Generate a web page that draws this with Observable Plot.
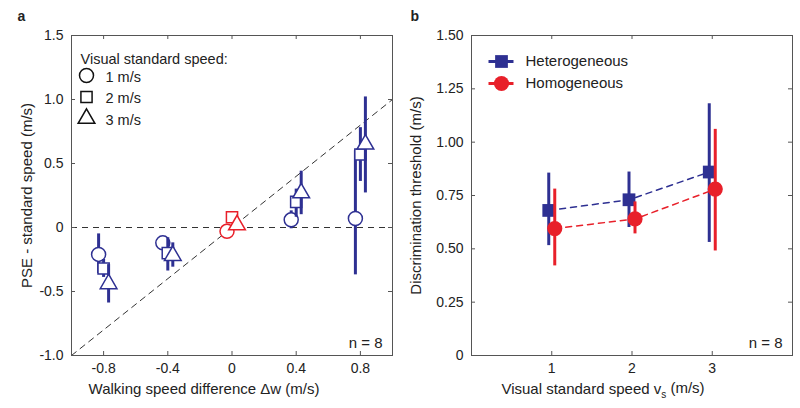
<!DOCTYPE html>
<html><head><meta charset="utf-8">
<script src="https://cdn.jsdelivr.net/npm/d3@7"></script>
<script src="https://cdn.jsdelivr.net/npm/@observablehq/plot@0.6"></script>
<style>
body{margin:0;background:#fff;}
#wrap{display:flex;width:800px;height:408px;}
</style></head><body><div id="wrap"></div>
<script>
// ---------- Panel a data ----------
const dwLevels = [-0.8, -0.4, 0, 0.4, 0.8];
const speedLabels = ["1 m/s", "2 m/s", "3 m/s"];
const pse1 = [-0.21, -0.12, -0.03, 0.06, 0.07];
const lo1  = [-0.36, -0.17, -0.05, -0.01, -0.37];
const hi1  = [-0.05, -0.07, 0.00, 0.13, 0.60];
const pse2 = [-0.32, -0.20, 0.08, 0.20, 0.57];
const lo2  = [-0.39, -0.34, 0.05, 0.08, 0.36];
const hi2  = [-0.25, -0.08, 0.11, 0.30, 0.78];
const pse3 = [-0.44, -0.22, 0.02, 0.27, 0.65];
const lo3  = [-0.59, -0.31, 0.00, 0.10, 0.27];
const hi3  = [-0.29, -0.12, 0.04, 0.44, 1.02];
const xTicksA = [-0.8, -0.4, 0, 0.4, 0.8];
const xTickLabelsA = ["-0.8", "-0.4", "0", "0.4", "0.8"];
const yTicksA = [-1, -0.5, 0, 0.5, 1, 1.5];
const yTickLabelsA = ["-1.0", "-0.5", "0", "0.5", "1.0", "1.5"];
const xDomainA = [-1, 1];
const yDomainA = [-1, 1.5];

// ---------- Panel b data ----------
const visSpeeds = [1, 2, 3];
const seriesNames = ["Heterogeneous", "Homogeneous"];
const hetMean = [0.68, 0.73, 0.86];
const hetLo   = [0.515, 0.60, 0.53];
const hetHi   = [0.855, 0.86, 1.18];
const homMean = [0.595, 0.64, 0.78];
const homLo   = [0.42, 0.57, 0.49];
const homHi   = [0.78, 0.72, 1.06];
const xTicksB = [1, 2, 3];
const xTickLabelsB = ["1", "2", "3"];
const yTicksB = [0, 0.25, 0.5, 0.75, 1, 1.25, 1.5];
const yTickLabelsB = ["0", "0.25", "0.50", "0.75", "1.00", "1.25", "1.50"];
const xDomainB = [0, 4];
const yDomainB = [0, 1.5];

// ---------- styling ----------
const blue = "#2e3092", red = "#e8202a", frameColor = "#555";
const W = 400, H = 408, mL = 71, mR = 8, mT = 35, mB = 53;
const pw = W - mL - mR, ph = H - mT - mB;
const font = {fontFamily: "'Liberation Sans', Arial, Helvetica, sans-serif", fontSize: "15px", color: "#222", background: "#fff"};
const TXT = {lineAnchor: "middle", fontSize: 15};

function fmt(ticks, labels) { return d => labels[ticks.indexOf(d)]; }
function inwardTicks(xt, yt) {
  return [
    Plot.ruleX(xt, {x: d => d, insetTop: ph - 4, stroke: frameColor}),
    Plot.ruleX(xt, {x: d => d, insetBottom: ph - 4, stroke: frameColor}),
    Plot.ruleY(yt, {y: d => d, insetRight: pw - 4, stroke: frameColor}),
    Plot.ruleY(yt, {y: d => d, insetLeft: pw - 4, stroke: frameColor})
  ];
}
const hLine = {draw(ctx) { ctx.moveTo(-13, 0); ctx.lineTo(12, 0); }};

// ---------- Panel a ----------
const pseAll = [pse1, pse2, pse3], loAll = [lo1, lo2, lo3], hiAll = [hi1, hi2, hi3];
const symbolsA = ["circle", "square", "triangle"];
const rA = [7, 6.3, 6.2];
const dxA = [-5, 0, 5];
const marksA = [
  Plot.ruleY([0], {y: d => d, stroke: "#333", strokeWidth: 1, strokeDasharray: "6,5"}),
  Plot.line(xDomainA, {x: d => d, y: d => d, stroke: "#333", strokeWidth: 1, strokeDasharray: "6,5"})
];
speedLabels.forEach((s, k) => {
  const rows = dwLevels.map((dw, i) => ({dw, pse: pseAll[k][i], lo: loAll[k][i], hi: hiAll[k][i], col: dw === 0 ? red : blue}));
  marksA.push(Plot.ruleX(rows, {x: "dw", y1: "lo", y2: "hi", dx: dxA[k], stroke: "col", strokeWidth: 3}));
  marksA.push(Plot.dot(rows, {x: "dw", y: "pse", dx: dxA[k], symbol: symbolsA[k], r: rA[k], fill: "white", stroke: "col", strokeWidth: 1.5}));
});
marksA.push(
  Plot.frame({stroke: frameColor}),
  ...inwardTicks(xTicksA, yTicksA),
  Plot.axisX(xTicksA, {tickSize: 0, tickPadding: 8, fontSize: 14, tickFormat: fmt(xTicksA, xTickLabelsA), label: null}),
  Plot.axisY(yTicksA, {tickSize: 0, tickPadding: 8, fontSize: 14, tickFormat: fmt(yTicksA, yTickLabelsA), label: null}),
  Plot.text(["Walking speed difference Δw (m/s)"], {...TXT, frameAnchor: "bottom", textAnchor: "middle", dy: 34, dx: -28, text: d => d}),
  Plot.text(["PSE - standard speed (m/s)"], {...TXT, frameAnchor: "left", textAnchor: "middle", dx: -44, rotate: -90, text: d => d}),
  Plot.text(["a"], {...TXT, frameAnchor: "top-left", dx: -54, dy: -19, text: d => d, fontWeight: "bold", fontSize: 14}),
  Plot.text(["n = 8"], {...TXT, frameAnchor: "bottom-right", dx: -10, dy: -12, textAnchor: "end", text: d => d}),
  Plot.text(["Visual standard speed:"], {...TXT, fontSize: 14.5, frameAnchor: "top-left", dx: 9, dy: 24, textAnchor: "start", text: d => d}),
  ...speedLabels.flatMap((s, k) => [
    Plot.dot([s], {frameAnchor: "top-left", dx: 15, dy: 40 + 21.5 * k, symbol: symbolsA[k], r: rA[k], fill: "white", stroke: "#111", strokeWidth: 1.5}),
    Plot.text([s], {...TXT, fontSize: 14.5, frameAnchor: "top-left", dx: 34, dy: 41.5 + 21.5 * k, textAnchor: "start", text: d => d})
  ])
);
const plotA = Plot.plot({
  width: W, height: H, marginLeft: mL, marginRight: mR, marginTop: mT, marginBottom: mB,
  x: {domain: xDomainA}, y: {domain: yDomainA},
  style: font, marks: marksA
});

// ---------- Panel b ----------
const bSeries = [
  {name: seriesNames[0], mean: hetMean, lo: hetLo, hi: hetHi, col: blue, sym: "square", r: 7.2, dx: -3},
  {name: seriesNames[1], mean: homMean, lo: homLo, hi: homHi, col: red, sym: "circle", r: 7.6, dx: 3}
];
const marksB = [];
bSeries.forEach(s => {
  const rows = visSpeeds.map((v, i) => ({v, m: s.mean[i], lo: s.lo[i], hi: s.hi[i]}));
  marksB.push(
    Plot.ruleX(rows, {x: "v", y1: "lo", y2: "hi", dx: s.dx, stroke: s.col, strokeWidth: 3}),
    Plot.line(rows, {x: "v", y: "m", dx: s.dx, stroke: s.col, strokeWidth: 1.5, strokeDasharray: "6,5"}),
    Plot.dot(rows, {x: "v", y: "m", dx: s.dx, symbol: s.sym, r: s.r, fill: s.col, stroke: "none"})
  );
});
marksB.push(
  Plot.frame({stroke: frameColor}),
  ...inwardTicks(xTicksB, yTicksB),
  Plot.axisX(xTicksB, {tickSize: 0, tickPadding: 8, fontSize: 14, tickFormat: fmt(xTicksB, xTickLabelsB), label: null}),
  Plot.axisY(yTicksB, {tickSize: 0, tickPadding: 8, fontSize: 14, tickFormat: fmt(yTicksB, yTickLabelsB), label: null}),
  Plot.text(["Visual standard speed vs (m/s)"], {...TXT, frameAnchor: "bottom", textAnchor: "middle", dy: 34, dx: -29, text: d => d, className: "xlabB"}),
  Plot.text(["Discrimination threshold (m/s)"], {...TXT, frameAnchor: "left", textAnchor: "middle", dx: -55, rotate: -90, text: d => d}),
  Plot.text(["b"], {...TXT, frameAnchor: "top-left", dx: -61, dy: -19, text: d => d, fontWeight: "bold", fontSize: 14}),
  Plot.text(["n = 8"], {...TXT, frameAnchor: "bottom-right", dx: -10, dy: -12, textAnchor: "end", text: d => d}),
  ...bSeries.flatMap((s, k) => [
    Plot.dot([s.name], {frameAnchor: "top-left", dx: 30, dy: 26 + 22 * k, symbol: hLine, r: 5, fill: "none", stroke: s.col, strokeWidth: 3}),
    Plot.dot([s.name], {frameAnchor: "top-left", dx: 30, dy: 26 + 22 * k, symbol: s.sym, r: s.r, fill: s.col, stroke: "none"}),
    Plot.text([s.name], {...TXT, frameAnchor: "top-left", dx: 54, dy: 26 + 22 * k, textAnchor: "start", text: d => d})
  ])
);
const plotB = Plot.plot({
  width: W, height: H, marginLeft: mL, marginRight: mR, marginTop: mT, marginBottom: mB,
  x: {domain: xDomainB}, y: {domain: yDomainB},
  style: font, marks: marksB
});

// subscript "s" in the panel b x label
const t = d3.select(plotB).select(".xlabB text");
if (!t.empty()) {
  t.text(null);
  t.append("tspan").text("Visual standard speed v");
  t.append("tspan").attr("dy", "0.35em").attr("font-size", "10px").text("s");
  t.append("tspan").attr("dy", "-0.35em").text(" (m/s)");
}

document.getElementById("wrap").append(plotA, plotB);
</script>
</body></html>
